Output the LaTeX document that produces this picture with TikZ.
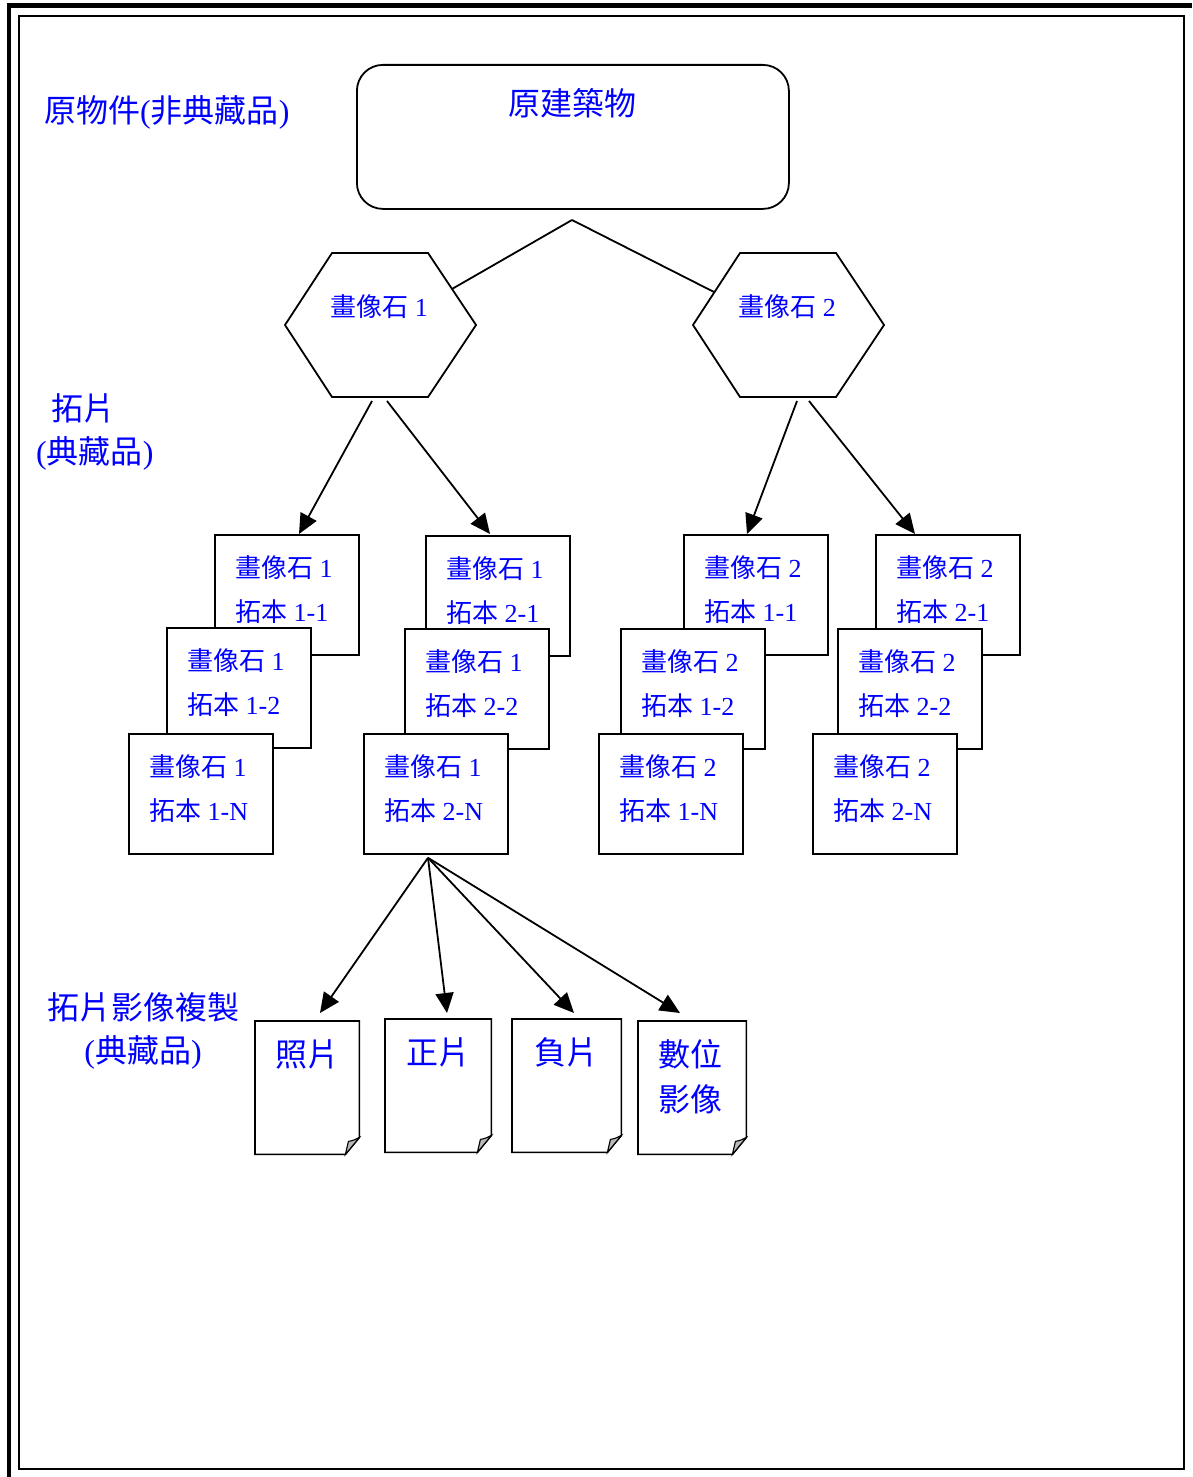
\documentclass[tikz,border=0pt]{standalone}
\usepackage{fontspec}
\setmainfont{Liberation Serif}
\newfontfamily\cjk{Noto Sans CJK TC}
\usetikzlibrary{arrows.meta,calc}
\definecolor{txtblue}{RGB}{0,0,255}
\newcommand\ZH[1]{{\cjk #1}}
\newcommand\docoutline[1]{%
  \draw[docline] (#1.north west) -- (#1.north east) -- ($(#1.south east)+(0,-17)$)
    -- ($(#1.south east)+(-14,0)$) -- (#1.south west) -- cycle;
  \filldraw[fill=gray!55, line width=1.1pt] ($(#1.south east)+(0,-17)$)
    .. controls ($(#1.south east)+(-6,-14)$) .. ($(#1.south east)+(-11,-13)$)
    -- ($(#1.south east)+(-14,0)$) -- cycle;}
\begin{document}
\begin{tikzpicture}[x=1pt,y=-1pt,
  stonebox/.style={draw, fill=white, line width=1.8pt, minimum width=144pt, minimum height=120pt, inner sep=0pt, anchor=north west},
  stonetxt/.style={text=txtblue, font=\fontsize{26}{44}\selectfont, align=left, inner sep=0pt, anchor=west},
  hextxt/.style={text=txtblue, font=\fontsize{26}{44}\selectfont, inner sep=0pt},
  bigtxt/.style={text=txtblue, font=\fontsize{32}{43}\selectfont, inner sep=0pt},
  doctxt/.style={text=txtblue, font=\fontsize{32}{45}\selectfont, align=left, inner sep=0pt, anchor=west},
  docnode/.style={inner sep=0pt, anchor=north west},
  docline/.style={line width=1.6pt, fill=white},
  plainline/.style={line width=1.8pt},
  arrowline/.style={line width=1.8pt, -{Triangle[length=20pt,width=18pt]}}]
\useasboundingbox (0,0) rectangle (1192,1477);
% page frame
\draw[line width=4.5pt] (7,5.3) -- (1192,5.3);
\draw[line width=4.5pt] (8.8,3) -- (8.8,1477);
\draw[line width=2pt] (19,16.3) rectangle (1184,1468.7);

% side labels
\node[bigtxt, anchor=west] (lab1) at (44,112) {\ZH{原物件}(\ZH{非典藏品})};
\node[bigtxt, anchor=west, align=left] (lab2) at (36,431.5) {\hspace*{15pt}\ZH{拓片}\\(\ZH{典藏品})};
\node[bigtxt, align=center] (lab3) at (143,1031) {\ZH{拓片影像複製}\\(\ZH{典藏品})};

% root box
\node[draw, rounded corners=26pt, line width=1.8pt, minimum width=432pt, minimum height=144pt, inner sep=0pt, anchor=north west] (root) at (356,64) {};
\node[bigtxt] (roott) at (572,103) {\ZH{原建築物}};

% hexagons
\coordinate (h1) at (380,325);
\coordinate (h2) at (788,325);
\foreach \h in {h1,h2}{
  \draw[plainline] ($(\h)+(-95,0)$) -- ($(\h)+(-48,-72)$) -- ($(\h)+(48,-72)$)
    -- ($(\h)+(96,0)$) -- ($(\h)+(48,72)$) -- ($(\h)+(-48,72)$) -- cycle;}
\node[hextxt] (h1t) at (379,307) {\ZH{畫像石} 1};
\node[hextxt] (h2t) at (787,307) {\ZH{畫像石} 2};

% root connectors
\coordinate (apex) at (572,220);
\draw[plainline] (apex) -- ($(h1)+(72,-36)$);
\draw[plainline] (apex) -- ($(h2)+(-74,-33)$);

% group 1
\node[stonebox] (g1a) at (214,534) {};
\node[stonetxt] (g1at) at ($(g1a.north west)+(21,56)$) {\ZH{畫像石} 1\\\ZH{拓本} 1-1};
\node[stonebox] (g1b) at (166,627) {};
\node[stonetxt] (g1bt) at ($(g1b.north west)+(21,56)$) {\ZH{畫像石} 1\\\ZH{拓本} 1-2};
\node[stonebox] (g1c) at (128,733) {};
\node[stonetxt] (g1ct) at ($(g1c.north west)+(21,56)$) {\ZH{畫像石} 1\\\ZH{拓本} 1-N};
% group 2
\node[stonebox] (g2a) at (425,535) {};
\node[stonetxt] (g2at) at ($(g2a.north west)+(21,56)$) {\ZH{畫像石} 1\\\ZH{拓本} 2-1};
\node[stonebox] (g2b) at (404,628) {};
\node[stonetxt] (g2bt) at ($(g2b.north west)+(21,56)$) {\ZH{畫像石} 1\\\ZH{拓本} 2-2};
\node[stonebox] (g2c) at (363,733) {};
\node[stonetxt] (g2ct) at ($(g2c.north west)+(21,56)$) {\ZH{畫像石} 1\\\ZH{拓本} 2-N};
% group 3
\node[stonebox] (g3a) at (683,534) {};
\node[stonetxt] (g3at) at ($(g3a.north west)+(21,56)$) {\ZH{畫像石} 2\\\ZH{拓本} 1-1};
\node[stonebox] (g3b) at (620,628) {};
\node[stonetxt] (g3bt) at ($(g3b.north west)+(21,56)$) {\ZH{畫像石} 2\\\ZH{拓本} 1-2};
\node[stonebox] (g3c) at (598,733) {};
\node[stonetxt] (g3ct) at ($(g3c.north west)+(21,56)$) {\ZH{畫像石} 2\\\ZH{拓本} 1-N};
% group 4
\node[stonebox] (g4a) at (875,534) {};
\node[stonetxt] (g4at) at ($(g4a.north west)+(21,56)$) {\ZH{畫像石} 2\\\ZH{拓本} 2-1};
\node[stonebox] (g4b) at (837,628) {};
\node[stonetxt] (g4bt) at ($(g4b.north west)+(21,56)$) {\ZH{畫像石} 2\\\ZH{拓本} 2-2};
\node[stonebox] (g4c) at (812,733) {};
\node[stonetxt] (g4ct) at ($(g4c.north west)+(21,56)$) {\ZH{畫像石} 2\\\ZH{拓本} 2-N};

% hexagon to rubbing arrows
\draw[arrowline] ($(h1)+(-8,76)$) -- ($(g1a.north west)+(85,0)$);
\draw[arrowline] ($(h1)+(7,76)$) -- ($(g2a.north west)+(65,-1)$);
\draw[arrowline] ($(h2)+(9,76)$) -- ($(g3a.north west)+(64,0)$);
\draw[arrowline] ($(h2)+(21,76)$) -- ($(g4a.north west)+(40,0)$);

% documents
\node[docnode, minimum width=104pt, minimum height=133pt] (d1) at (255,1021) {};
\node[docnode, minimum width=106pt, minimum height=133pt] (d2) at (385,1019) {};
\node[docnode, minimum width=109pt, minimum height=133pt] (d3) at (512,1019) {};
\node[docnode, minimum width=108pt, minimum height=133pt] (d4) at (638,1021) {};
\docoutline{d1}
\docoutline{d2}
\docoutline{d3}
\docoutline{d4}
\node[doctxt] (d1t) at ($(d1.north west)+(20,33)$) {\ZH{照片}};
\node[doctxt] (d2t) at ($(d2.north west)+(21,33)$) {\ZH{正片}};
\node[doctxt] (d3t) at ($(d3.north west)+(22,33)$) {\ZH{負片}};
\node[doctxt] (d4t) at ($(d4.north west)+(20,55.5)$) {\ZH{數位}\\\ZH{影像}};

% rubbing to documents arrows
\coordinate (g2o) at ($(g2c.south west)+(65,3)$);
\draw[arrowline] (g2o) -- ($(d1.north west)+(65,-8)$);
\draw[arrowline] (g2o) -- ($(d2.north west)+(62,-6)$);
\draw[arrowline] (g2o) -- ($(d3.north west)+(62,-6)$);
\draw[arrowline] (g2o) -- ($(d4.north west)+(42,-8)$);
\end{tikzpicture}
\end{document}
